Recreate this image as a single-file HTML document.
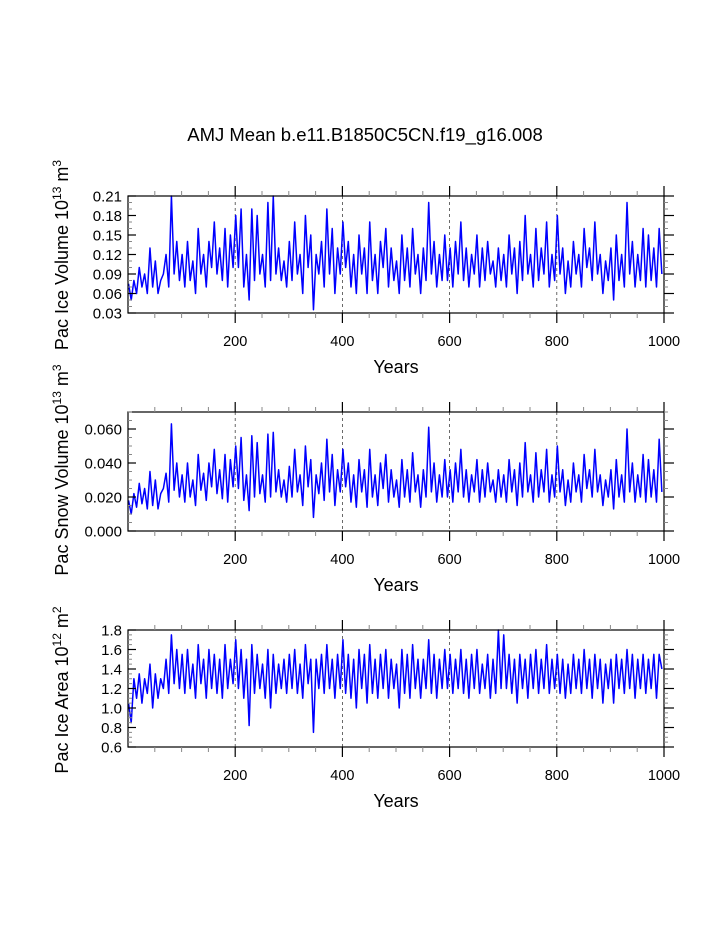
<!DOCTYPE html>
<html><head><meta charset="utf-8"><style>
body{margin:0;background:#fff}
svg{display:block;font-family:"Liberation Sans",Arial,sans-serif}
</style></head><body>
<svg id="c" width="723" height="935">
<text x="365" y="141" font-size="18.5" text-anchor="middle">AMJ Mean b.e11.B1850C5CN.f19_g16.008</text>
</svg>
<script>
const years = [];
for (let i = 0; i < 200; i++) years.push(1 + i * 5);
const iceVolume = [
0.075,0.05,0.08,0.06,0.10,0.07,0.09,0.06,0.13,0.07,0.11,0.06,0.08,0.09,0.12,0.07,0.21,0.09,0.14,0.08,
0.12,0.07,0.14,0.08,0.11,0.06,0.16,0.09,0.12,0.07,0.14,0.10,0.17,0.09,0.13,0.08,0.16,0.07,0.15,0.10,
0.18,0.10,0.19,0.07,0.12,0.05,0.19,0.08,0.18,0.09,0.12,0.07,0.20,0.08,0.21,0.09,0.13,0.08,0.11,0.07,
0.14,0.08,0.17,0.09,0.12,0.06,0.18,0.10,0.15,0.035,0.12,0.09,0.14,0.07,0.19,0.09,0.16,0.06,0.13,0.09,
0.17,0.10,0.14,0.07,0.12,0.06,0.15,0.09,0.13,0.06,0.17,0.08,0.12,0.06,0.14,0.10,0.16,0.07,0.13,0.08,
0.11,0.06,0.15,0.08,0.13,0.07,0.16,0.09,0.12,0.06,0.13,0.08,0.20,0.09,0.14,0.07,0.12,0.08,0.15,0.08,
0.13,0.07,0.14,0.09,0.17,0.08,0.13,0.07,0.12,0.09,0.15,0.07,0.13,0.08,0.14,0.09,0.11,0.07,0.13,0.08,
0.12,0.07,0.15,0.09,0.13,0.06,0.14,0.08,0.18,0.09,0.12,0.07,0.16,0.08,0.13,0.09,0.17,0.07,0.12,0.08,
0.18,0.09,0.13,0.06,0.11,0.07,0.14,0.09,0.12,0.07,0.16,0.10,0.13,0.08,0.17,0.09,0.12,0.06,0.11,0.08,
0.13,0.05,0.15,0.08,0.12,0.07,0.20,0.09,0.14,0.07,0.12,0.08,0.16,0.07,0.15,0.08,0.13,0.07,0.16,0.09];
const snowVolume = [
0.018,0.010,0.022,0.014,0.028,0.016,0.025,0.013,0.035,0.015,0.030,0.013,0.022,0.025,0.034,0.017,0.063,0.024,0.040,0.020,
0.033,0.017,0.040,0.020,0.030,0.015,0.045,0.024,0.034,0.018,0.040,0.026,0.048,0.022,0.036,0.019,0.045,0.017,0.042,0.026,
0.050,0.025,0.055,0.018,0.033,0.012,0.056,0.020,0.052,0.022,0.033,0.017,0.057,0.020,0.058,0.023,0.036,0.020,0.030,0.017,
0.038,0.020,0.048,0.023,0.033,0.015,0.050,0.026,0.042,0.008,0.033,0.022,0.040,0.018,0.054,0.023,0.045,0.015,0.036,0.023,
0.048,0.026,0.040,0.017,0.033,0.014,0.042,0.023,0.036,0.014,0.048,0.020,0.033,0.015,0.040,0.025,0.045,0.017,0.036,0.020,
0.030,0.014,0.042,0.020,0.036,0.017,0.046,0.023,0.033,0.014,0.036,0.020,0.061,0.023,0.040,0.017,0.033,0.020,0.042,0.020,
0.036,0.017,0.040,0.023,0.048,0.020,0.036,0.017,0.033,0.023,0.042,0.017,0.036,0.020,0.040,0.023,0.030,0.017,0.036,0.020,
0.033,0.017,0.042,0.023,0.036,0.015,0.040,0.020,0.052,0.023,0.033,0.017,0.046,0.020,0.036,0.023,0.048,0.017,0.033,0.020,
0.050,0.023,0.036,0.015,0.030,0.017,0.040,0.023,0.033,0.017,0.045,0.025,0.036,0.020,0.048,0.023,0.033,0.015,0.030,0.020,
0.036,0.013,0.042,0.020,0.033,0.017,0.060,0.023,0.040,0.017,0.033,0.020,0.045,0.017,0.042,0.020,0.036,0.017,0.054,0.023];
const iceArea = [
1.05,0.85,1.30,1.10,1.35,1.05,1.30,1.15,1.45,1.00,1.35,1.10,1.30,1.20,1.50,1.15,1.75,1.25,1.60,1.20,
1.55,1.15,1.60,1.20,1.45,1.10,1.65,1.25,1.50,1.10,1.60,1.20,1.55,1.15,1.50,1.10,1.65,1.20,1.50,1.25,
1.70,1.20,1.60,1.10,1.50,0.82,1.65,1.15,1.55,1.20,1.45,1.10,1.60,1.00,1.55,1.15,1.45,1.20,1.50,1.15,
1.55,1.20,1.60,1.15,1.45,1.10,1.65,1.25,1.50,0.75,1.50,1.20,1.55,1.15,1.65,1.20,1.50,1.10,1.55,1.20,
1.70,1.15,1.55,1.10,1.50,1.00,1.60,1.20,1.55,1.05,1.65,1.15,1.50,1.10,1.55,1.20,1.60,1.10,1.50,1.20,
1.45,1.00,1.60,1.15,1.55,1.10,1.65,1.20,1.50,1.10,1.50,1.20,1.70,1.15,1.55,1.10,1.50,1.20,1.60,1.20,
1.55,1.15,1.50,1.20,1.60,1.15,1.50,1.10,1.55,1.20,1.60,1.15,1.45,1.20,1.55,1.10,1.50,1.15,1.80,1.20,
1.75,1.20,1.55,1.15,1.50,1.05,1.55,1.20,1.50,1.10,1.55,1.20,1.60,1.15,1.50,1.20,1.65,1.15,1.50,1.20,
1.55,1.15,1.50,1.10,1.45,1.15,1.55,1.20,1.50,1.15,1.60,1.20,1.50,1.10,1.55,1.20,1.50,1.05,1.45,1.20,
1.50,1.05,1.55,1.20,1.50,1.15,1.60,1.20,1.55,1.10,1.50,1.20,1.55,1.15,1.50,1.20,1.55,1.10,1.55,1.40];
const xTicks = [200,400,600,800,1000];
const iceVolTicks = [0.03,0.06,0.09,0.12,0.15,0.18,0.21];
const snowTicks = [0.000,0.020,0.040,0.060];
const areaTicks = [0.6,0.8,1.0,1.2,1.4,1.6,1.8];

const svg = document.getElementById('c');
const NS = 'http://www.w3.org/2000/svg';
function mk(tag, attrs, parent){const e=document.createElementNS(NS,tag);for(const k in attrs)e.setAttribute(k,attrs[k]);(parent||svg).appendChild(e);return e;}
const X0=128, X1=664;
const xs = y => X0 + y/1000*(X1-X0);

const panels = [
 {name:'ice-volume', top:196, bot:313, ymin:0.03, ymax:0.21, ticks:iceVolTicks, minor:0.01, dec:2, data:iceVolume, title:['Pac Ice Volume 10','13',' m','3'], ty:255},
 {name:'snow-volume', top:412, bot:531, ymin:0, ymax:0.07, ticks:snowTicks, minor:0.005, dec:3, data:snowVolume, title:['Pac Snow Volume 10','13',' m','3'], ty:470},
 {name:'ice-area', top:630, bot:747, ymin:0.6, ymax:1.8, ticks:areaTicks, minor:0.05, dec:1, data:iceArea, title:['Pac Ice Area 10','12',' m','2'], ty:690}
];
panels.forEach(p=>{
  const g = mk('g',{});
  
  
  const ys = v => p.bot - (v-p.ymin)/(p.ymax-p.ymin)*(p.bot-p.top);
  [200,400,600,800].forEach(t=>{
    const l=mk('line',{x1:xs(t),x2:xs(t),y1:p.top,y2:p.bot,stroke:'#444','stroke-width':0.8,'stroke-dasharray':'3,3'},g);
    
    
  });
  let d='';
  years.forEach((yr,i)=>{d+=(i?'L':'M')+xs(yr).toFixed(2)+','+ys(p.data[i]).toFixed(2);});
  const path=mk('path',{d:d,fill:'none',stroke:'#0000ff','stroke-width':1.5,'stroke-linejoin':'round'},g);
  
  
  const fr=mk('rect',{x:X0,y:p.top,width:X1-X0,height:p.bot-p.top,fill:'none',stroke:'#000','stroke-width':1.2},g);
  
  
  for(let t=50;t<=1000;t+=50){
    const major = t%200===0;
    const L = major?10:5;
    mk('line',{x1:xs(t),x2:xs(t),y1:p.top,y2:p.top-L,stroke:major?'#000':'#888','stroke-width':major?1.2:1},g);
    mk('line',{x1:xs(t),x2:xs(t),y1:p.bot,y2:p.bot+L,stroke:major?'#000':'#888','stroke-width':major?1.2:1},g);
  }
  xTicks.forEach(t=>{
    const tx=mk('text',{x:xs(t),y:p.bot+33,'font-size':14.5,'text-anchor':'middle'},g);
    tx.textContent=t;
    
    
  });
  const xt=mk('text',{x:396,y:p.bot+60,'font-size':18,'text-anchor':'middle'},g);
  xt.textContent='Years';
  
  
  for(let v=p.ymin; v<=p.ymax+1e-9; v+=p.minor){
    const y=ys(v);
    mk('line',{x1:X0,x2:X0+4,y1:y,y2:y,stroke:'#888'},g);
    mk('line',{x1:X1,x2:X1+4,y1:y,y2:y,stroke:'#888'},g);
  }
  p.ticks.forEach(v=>{
    const y=ys(v);
    mk('line',{x1:X0,x2:X0+8,y1:y,y2:y,stroke:'#000','stroke-width':1.2},g);
    mk('line',{x1:X1,x2:X1+10,y1:y,y2:y,stroke:'#000','stroke-width':1.2},g);
    const tx=mk('text',{x:X0-6,y:y+5.5,'font-size':15,'text-anchor':'end'},g);
    tx.textContent=v.toFixed(p.dec);
    
    
  });
  const yt=mk('text',{x:0,y:0,'font-size':18,'text-anchor':'middle',transform:`translate(68,${p.ty}) rotate(-90)`},g);
  
  
  p.title.forEach((s,i)=>{
    const ts=mk('tspan',i%2?{'font-size':12,dy:-7}:(i?{dy:7}:{}),yt);
    ts.textContent=s;
  });
});
</script>
</body></html>
